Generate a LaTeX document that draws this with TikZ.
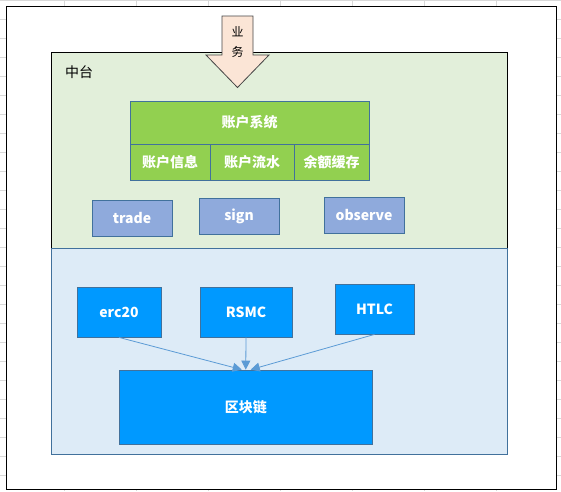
\documentclass[tikz,border=0pt]{standalone}
\usepackage{fontspec}
\setmainfont{Noto Sans CJK SC}
\usetikzlibrary{positioning,arrows.meta}

\definecolor{gridgray}{HTML}{D9D9D9}
\definecolor{midgreen}{HTML}{E2EFDA}
\definecolor{chainbg}{HTML}{DDEBF7}
\definecolor{edgeblue}{HTML}{41719C}
\definecolor{acctgreen}{HTML}{92D050}
\definecolor{svcblue}{HTML}{8FAADC}
\definecolor{chainblue}{HTML}{0099FF}
\definecolor{linkblue}{HTML}{5B9BD5}
\definecolor{bizpeach}{HTML}{FBE5D6}

\tikzset{
  panel/.style={draw=edgeblue, line width=0.8pt, inner sep=0pt},
  acct/.style={draw=edgeblue, fill=acctgreen, line width=0.8pt, text=white,
    font=\fontsize{14}{16}\selectfont\bfseries, inner sep=0pt},
  svc/.style={draw=edgeblue, fill=svcblue, line width=0.8pt, text=white,
    font=\fontsize{14}{16}\selectfont\bfseries, minimum width=80pt,
    minimum height=36pt, inner sep=0pt},
  chainbox/.style={draw=edgeblue, fill=chainblue, line width=0.8pt, text=white,
    font=\fontsize{14}{16}\selectfont\bfseries, minimum height=50pt, inner sep=0pt},
  link/.style={draw=linkblue, line width=0.8pt, -{Triangle[length=9pt,width=9pt]}}
}

\begin{document}
\begin{tikzpicture}[x=1pt,y=-1pt]
      \useasboundingbox (0,0) rectangle (561,491);
      % sheet grid
      \foreach \gx in {64,136,...,496}
        \draw[gridgray, line width=0.7pt] (\gx,0) -- (\gx,491);
      \foreach \gy in {0,19,...,480}
        \draw[gridgray, line width=0.7pt] (0,\gy+0.3) -- (561,\gy+0.3);
      \draw[fill=white, line width=1pt] (6,6) rectangle (556,489);
      % panels
      \draw (279,150) node[draw=black, fill=midgreen, line width=0.8pt, inner sep=0pt,
        minimum width=456pt, minimum height=196pt] (midpanel) {};
      \draw (279,351) node[panel, fill=chainbg, minimum width=456pt,
        minimum height=206pt] (chainpanel) {};
      \draw (79,72) node[font=\fontsize{14}{16}\selectfont] (midlabel) {中台};
      % business arrow
      \draw[fill=bizpeach, draw=gray!55!black, line width=0.8pt]
        (222,16) -- (253,16) -- (253,55) -- (269,55) -- (237.5,87.5)
        -- (206,55) -- (222,55) -- cycle;
      \draw (237.5,41.5) node[align=center, font=\fontsize{12}{20}\selectfont] (biz) {业\\务};
      % account system
      \draw (249.5,122.5) node[acct, minimum width=239pt, minimum height=43pt] (acctsys) {账户系统};
      \draw (170,162) node[acct, minimum width=80pt, minimum height=36pt] (acctinfo) {账户信息};
      \draw (252,162) node[acct, minimum width=84pt, minimum height=36pt] (acctflow) {账户流水};
      \draw (331.5,162) node[acct, minimum width=75pt, minimum height=36pt] (acctcache) {余额缓存};
      % services
      \draw (132,218) node[svc] (trade) {trade};
      \draw (239,216) node[svc] (sign) {sign};
      \draw (364,215) node[svc] (observe) {observe};
      % chain layer
      \draw (119,312) node[chainbox, minimum width=84pt] (erc) {erc20};
      \draw (246,312) node[chainbox, minimum width=92pt] (rsmc) {RSMC};
      \draw (374.5,309) node[chainbox, minimum width=79pt] (htlc) {HTLC};
      \draw (245.75,407) node[chainbox, minimum width=252.5pt, minimum height=74pt] (chain) {区块链};
      \draw[link] (erc.south) to ([xshift=-4pt]chain.north);
      \draw[link] (rsmc.south) to (chain.north);
      \draw[link] (htlc.south) to ([xshift=5pt]chain.north);
\end{tikzpicture}
\end{document}
